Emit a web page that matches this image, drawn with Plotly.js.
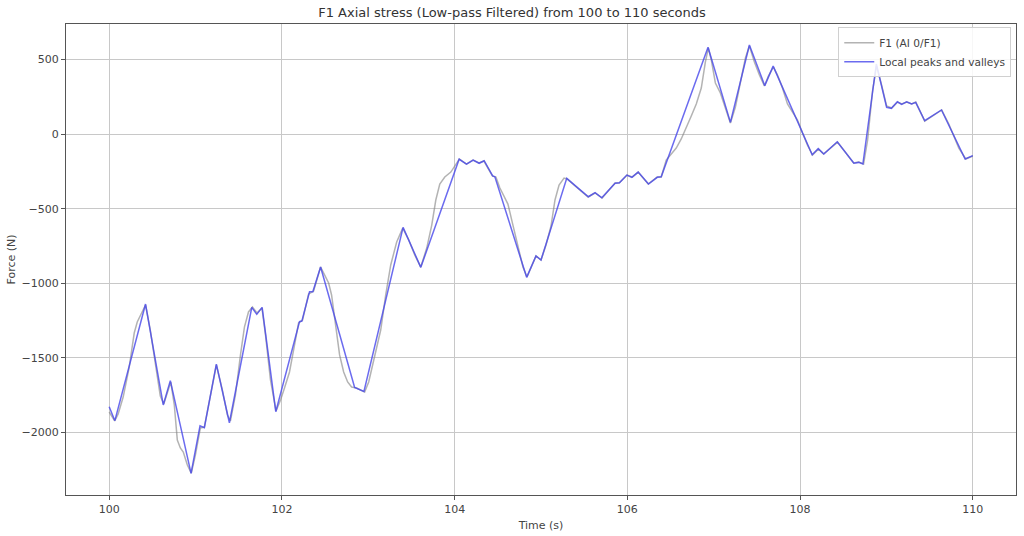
<!DOCTYPE html>
<html>
<head>
<meta charset="utf-8">
<script src="https://cdn.plot.ly/plotly-3.0.1.min.js"></script>
<style>html,body{margin:0;padding:0;background:#fff;}#chart{width:1024px;height:536px;}</style>
</head>
<body>
<div id="chart"></div>
<script>
// Filtered signal (grey)
const filteredTime = [100.000,100.064,100.104,100.162,100.232,100.290,100.325,100.371,100.421,100.476,100.545,100.592,100.632,100.673,100.713,100.754,100.789,100.824,100.858,100.905,100.951,100.998,101.056,101.102,101.172,101.241,101.311,101.369,101.404,101.462,101.520,101.566,101.613,101.659,101.711,101.769,101.810,101.868,101.932,101.984,102.030,102.088,102.135,102.193,102.239,102.309,102.367,102.448,102.494,102.541,102.575,102.622,102.668,102.715,102.761,102.807,102.865,102.912,102.958,103.005,103.051,103.097,103.144,103.202,103.260,103.329,103.399,103.469,103.538,103.608,103.677,103.735,103.782,103.828,103.886,103.956,104.014,104.055,104.136,104.211,104.281,104.339,104.437,104.478,104.524,104.571,104.617,104.675,104.733,104.791,104.838,104.896,104.942,105.000,105.058,105.116,105.162,105.209,105.267,105.302,105.429,105.545,105.626,105.708,105.858,105.905,105.998,106.056,106.125,106.241,106.346,106.392,106.450,106.508,106.566,106.624,106.682,106.740,106.798,106.856,106.903,106.937,106.972,107.019,107.077,107.135,107.193,107.251,107.309,107.367,107.413,107.471,107.529,107.587,107.633,107.691,107.738,107.796,107.854,107.912,107.970,108.028,108.086,108.144,108.213,108.271,108.434,108.619,108.677,108.735,108.782,108.840,108.886,108.944,109.002,109.060,109.130,109.176,109.234,109.292,109.339,109.443,109.640,109.722,109.780,109.838,109.919,110.000];
const filteredForce = [-1862,-1922,-1875,-1762,-1561,-1333,-1259,-1206,-1145,-1313,-1581,-1755,-1808,-1728,-1661,-1815,-2050,-2103,-2130,-2217,-2271,-2150,-1969,-1963,-1748,-1547,-1715,-1882,-1922,-1748,-1480,-1293,-1192,-1159,-1199,-1165,-1346,-1648,-1855,-1782,-1701,-1594,-1447,-1266,-1246,-1072,-1052,-891,-944,-998,-1078,-1279,-1480,-1594,-1661,-1695,-1701,-1715,-1728,-1661,-1547,-1447,-1313,-1078,-877,-723,-630,-710,-810,-891,-764,-610,-442,-335,-288,-255,-208,-167,-201,-174,-194,-181,-281,-288,-362,-415,-469,-610,-757,-891,-958,-877,-817,-844,-743,-616,-442,-342,-295,-301,-362,-422,-395,-429,-328,-328,-275,-288,-255,-335,-288,-288,-174,-134,-94,-33,40,121,201,308,482,576,496,342,275,174,74,181,342,509,589,482,395,322,388,449,395,308,201,147,94,7,-74,-141,-100,-134,-54,-194,-188,-201,-40,295,455,328,188,174,214,201,214,201,214,87,161,67,-13,-94,-167,-147];

// Local peaks and valleys (blue)
const peakTime = [100.000,100.066,100.421,100.626,100.708,100.948,101.052,101.102,101.241,101.392,101.651,101.709,101.771,101.929,102.204,102.231,102.320,102.358,102.448,102.842,102.950,103.403,103.608,104.052,104.138,104.215,104.284,104.342,104.440,104.466,104.834,104.942,105.000,105.298,105.433,105.549,105.626,105.704,105.858,105.908,105.994,106.052,106.125,106.245,106.346,106.392,106.934,107.193,107.413,107.591,107.688,108.140,108.210,108.275,108.430,108.623,108.681,108.727,108.883,109.002,109.057,109.126,109.176,109.234,109.292,109.339,109.443,109.637,109.911,110.000];
const peakForce = [-1827,-1920,-1139,-1815,-1652,-2273,-1954,-1967,-1541,-1934,-1161,-1208,-1161,-1860,-1257,-1253,-1056,-1056,-891,-1697,-1725,-625,-893,-169,-201,-174,-196,-179,-281,-286,-960,-817,-844,-297,-364,-420,-393,-427,-330,-326,-275,-290,-255,-335,-290,-286,581,78,596,324,455,-139,-98,-134,-52,-196,-190,-201,469,179,172,216,199,216,201,212,89,161,-167,-145];

const xTicks = [100,102,104,106,108,110];
const yTicks = [-2000,-1500,-1000,-500,0,500];

const font = "DejaVu Sans, sans-serif";

const traces = [
  {x: filteredTime, y: filteredForce, type: 'scatter', mode: 'lines', name: 'F1 (AI 0/F1)',
   line: {color: 'rgba(128,128,128,0.6)', width: 1.5}},
  {x: peakTime, y: peakForce, type: 'scatter', mode: 'lines', name: 'Local peaks and valleys',
   line: {color: 'rgba(70,70,235,0.8)', width: 1.5}}
];

const axisBase = {
  showline: true, mirror: true, linecolor: '#555', linewidth: 1,
  ticks: 'outside', ticklen: 4, tickcolor: '#555',
  showgrid: true, gridcolor: '#c8c8c8', gridwidth: 1,
  zeroline: false, tickfont: {family: font, size: 11, color: '#444'}
};

const layout = {
  width: 1024, height: 536,
  margin: {l: 66, r: 8, t: 24, b: 41},
  paper_bgcolor: '#fff', plot_bgcolor: '#fff',
  title: {text: 'F1 Axial stress (Low-pass Filtered) from 100 to 110 seconds',
          font: {family: font, size: 13, color: '#333'}, x: 0.5, xanchor: 'center', y: 0.976, yanchor: 'middle'},
  xaxis: Object.assign({}, axisBase, {range: [99.5, 110.5], tickvals: xTicks,
          title: {text: 'Time (s)', font: {family: font, size: 11, color: '#444'}, standoff: 6}}),
  yaxis: Object.assign({}, axisBase, {range: [-2418, 737], tickvals: yTicks,
          title: {text: 'Force (N)', font: {family: font, size: 11, color: '#444'}, standoff: 3}}),
  showlegend: true,
  legend: {x: 0.995, y: 0.993, xanchor: 'right', yanchor: 'top',
           bgcolor: 'rgba(255,255,255,0.85)', bordercolor: '#d0d0d0', borderwidth: 1,
           font: {family: font, size: 10.6, color: '#444'}, tracegroupgap: 0, itemwidth: 30}
};

Plotly.newPlot('chart', traces, layout, {displayModeBar: false, staticPlot: true});
</script>
</body>
</html>
